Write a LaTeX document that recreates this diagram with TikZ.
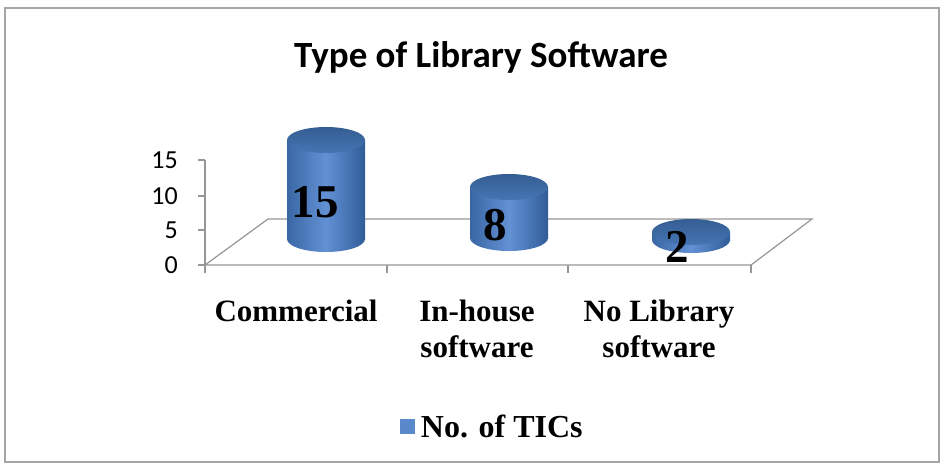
\documentclass[tikz,border=0pt]{standalone}
\usepackage{fontspec}
\setmainfont{Liberation Serif}
\newfontfamily\calibri{Carlito}
\usetikzlibrary{positioning}
\definecolor{barlight}{RGB}{98,145,212}
\definecolor{bardark}{RGB}{48,92,152}
\definecolor{bartopc}{RGB}{62,110,172}
\definecolor{gridgray}{RGB}{150,150,150}
\tikzstyle{barside}=[
	left color=bardark!80!barlight,
	right color=bardark,
	middle color=barlight
]
\tikzstyle{bartop}=[
	top color=bartopc!85!black,
	bottom color=bartopc!80!barlight
]
\tikzstyle{axisline}=[
	draw=gridgray,
	line width=1.2pt
]
\tikzstyle{ticklabel}=[
	font=\calibri\fontsize{26}{28}\selectfont,
	anchor=east,
	inner sep=0pt
]
\tikzstyle{catlabel}=[
	font=\bfseries\fontsize{31}{36}\selectfont,
	align=center,
	anchor=north
]
\tikzstyle{value}=[
	font=\bfseries\fontsize{47}{50}\selectfont,
	inner sep=0pt
]
\newcommand{\cylbar}[4]{% cx, top, bottom, name
	\shade[barside] (#1,#3) ellipse[x radius=39pt, y radius=13pt];
	\shade[barside] (#1-39,#2) rectangle (#1+39,#3);
	\shade[bartop] (#1,#2) ellipse[x radius=39pt, y radius=13pt];
	\coordinate (#4) at (#1,#2);
}

\begin{document}
\begin{tikzpicture}[x=1pt,y=-1pt]
\useasboundingbox (0,0) rectangle (944,464);
% frame
\draw[gray!70, line width=1.5pt] (5,8) rectangle (939,462);
\node[font=\calibri\bfseries\fontsize{37}{40}\selectfont] (title) at (481,57) {Type of Library Software};

% floor
\coordinate (fl) at (205,265);
\coordinate (fr) at (751,265);
\coordinate (bl) at (268,219);
\coordinate (br) at (812,219);
\draw[axisline] (fl) -- (bl) -- (br) -- (fr) -- cycle;
\draw[axisline] (205,160) -- (fl);
\foreach \v/\yy in {0/265,5/230,10/196,15/160}{
	\draw[axisline] (198,\yy) -- (205,\yy);
	\node[ticklabel] (tick\v) at (178,\yy) {\v};
}
\foreach \xx in {205,387,568,751}
	\draw[axisline] (\xx,265) -- (\xx,273);

% bars
\cylbar{326}{140}{239}{commercial}
\cylbar{509}{187}{238}{inhouse}
\cylbar{691}{232}{240}{nolibrary}
\node[value] (v15) at (315,202) {15};
\node[value] (v8) at (495,225) {8};
\node[value] (v2) at (677,247) {2};

% categories
\node[catlabel] (cat1) at (296,296) {Commercial};
\node[catlabel] (cat2) at (477,296) {In-house\\software};
\node[catlabel] (cat3) at (659,296) {No Library\\software};

% legend
\node[fill=barlight!85!bardark, minimum size=15pt, inner sep=0pt] (legbox) at (407,426) {};
\node[font=\bfseries\fontsize{32}{34}\selectfont, anchor=west, inner sep=0pt] (legtext) [right=6pt of legbox] {No. of TICs};
\end{tikzpicture}
\end{document}
